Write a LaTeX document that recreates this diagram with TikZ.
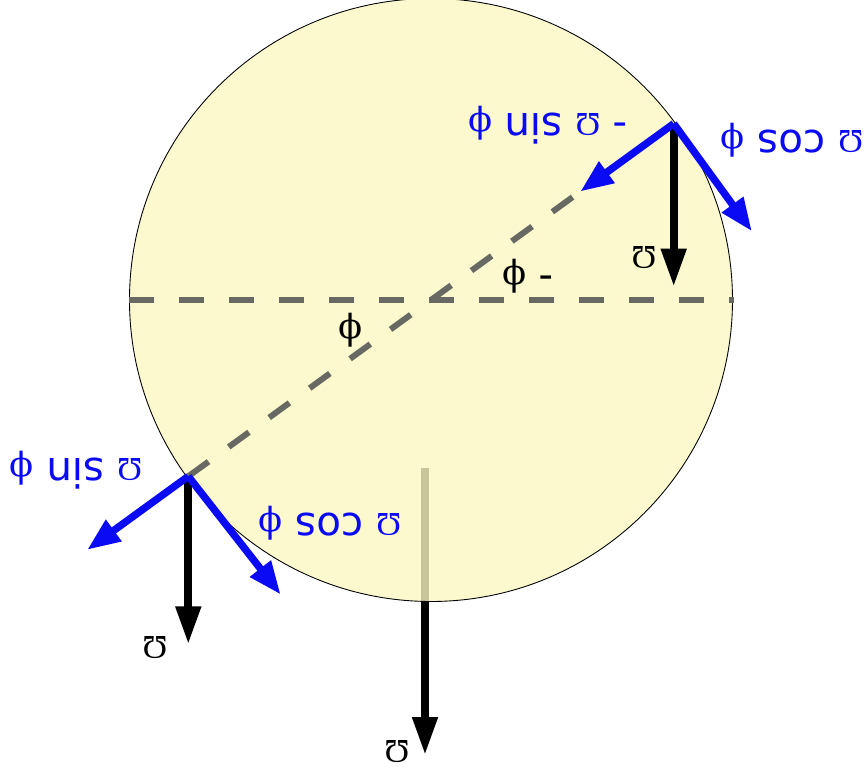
\documentclass[tikz,border=0pt]{standalone}
\usepackage{fontspec}
\setmainfont{DejaVu Sans}
\newfontfamily\omegafont{Liberation Serif}
\newfontfamily\phifont{DejaVu Serif}
\usepackage{xcolor}
\definecolor{discfill}{RGB}{251,247,194}
\definecolor{dashgray}{RGB}{105,105,100}
\definecolor{vecblue}{RGB}{10,10,245}
\usepackage{tikz}
\usetikzlibrary{arrows.meta}
\newcommand{\gOmega}{{\omegafont\fontsize{19}{22}\selectfont Ω}}
\newcommand{\gphi}{{\phifont\fontsize{20}{22}\selectfont ϕ}}

\begin{document}
\begin{tikzpicture}[
  lbl/.style={font=\fontsize{23}{26}\selectfont, rotate=180, inner sep=0pt},
  axisline/.style={dashgray, line width=3.4pt, dash pattern=on 0.5cm off 0.5cm},
  grav/.style={-{Triangle[length=0.76cm,width=0.48cm]}, line width=4.4pt, black},
  comp/.style={-{Triangle[length=0.66cm,width=0.5cm]}, line width=4.2pt, vecblue}
]
  \useasboundingbox (-8.62,-9.5) rectangle (8.72,6);

  \coordinate (centre) at (0,0);
  \coordinate (top) at (36:6);
  \coordinate (bot) at (216:6);
  \coordinate (left) at (-6.04,0);
  \coordinate (right) at (6.06,0);
  \coordinate (gmid) at (-0.12,-3.36);
  \coordinate (gmidtip) at (-0.12,-9.1);
  \path (top) ++(0,-3.26) coordinate (gtoptip);
  \path (bot) ++(0,-3.36) coordinate (gbottip);
  \path (top) ++(216:2.31) coordinate (sintoptip);
  \path (top) ++(-54:2.66) coordinate (costoptip);
  \path (bot) ++(216:2.5) coordinate (sinbottip);
  \path (bot) ++(-52:3.0) coordinate (cosbottip);

  \draw[grav] (gmid) -- (gmidtip);
  \draw[fill=discfill, fill opacity=0.8, line width=0.5pt] (centre) circle (6.03);

  \draw[axisline] (left) -- (right);
  \draw[axisline] (bot) -- (top);

  \draw[grav] (top) -- (gtoptip);
  \draw[grav] (bot) -- (gbottip);
  \draw[comp] (top) -- (sintoptip);
  \draw[comp] (top) -- (costoptip);
  \draw[comp] (bot) -- (sinbottip);
  \draw[comp] (bot) -- (cosbottip);

  \node[lbl, text=vecblue] (sintop) at (2.34,3.5) {- \gOmega\ sin \gphi};
  \node[lbl, text=vecblue] (costop) at (7.22,3.2) {\gOmega\ cos \gphi};
  \node[lbl, text=vecblue] (sinbot) at (-7.1,-3.4) {\gOmega\ sin \gphi};
  \node[lbl, text=vecblue] (cosbot) at (-2.02,-4.46) {\gOmega\ cos \gphi};
  \node[lbl] (gtop) at (4.26,0.84) {\gOmega};
  \node[lbl] (gbot) at (-5.52,-6.96) {\gOmega};
  \node[lbl] (gcentre) at (-0.68,-9.04) {\gOmega};
  \node[lbl] (phineg) at (1.94,0.48) {- \gphi};
  \node[lbl] (phi) at (-1.6,-0.6) {\gphi};
\end{tikzpicture}
\end{document}
